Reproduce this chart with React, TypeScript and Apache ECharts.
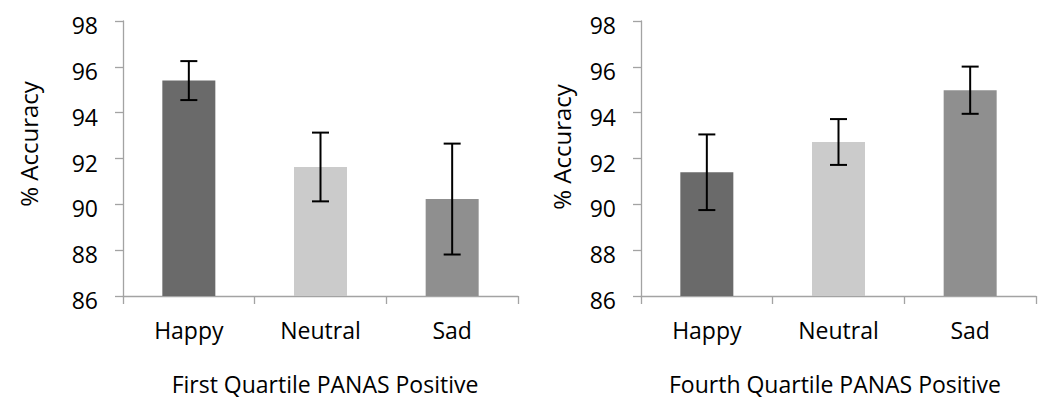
import React, { useEffect, useRef } from "react";
import * as echarts from "echarts";

// Emotion categories shared by both panels
const categories = ["Happy", "Neutral", "Sad"];

// First quartile PANAS positive: mean accuracy and error half-widths
const firstQuartileMeans = [95.4, 91.63, 90.23];
const firstQuartileErrors = [0.85, 1.5, 2.42];

// Fourth quartile PANAS positive: mean accuracy and error half-widths
const fourthQuartileMeans = [91.4, 92.72, 94.98];
const fourthQuartileErrors = [1.65, 1.0, 1.03];

const barColors = ["#6a6a6a", "#cbcbcb", "#8f8f8f"];

const yTicks = { min: 86, max: 98, interval: 2 };

const panelTitles = ["First Quartile PANAS Positive", "Fourth Quartile PANAS Positive"];
const yTitle = "% Accuracy";

const FONT = "'Open Sans', sans-serif";
const AXIS_GRAY = "#a3a3a3";

function errorRenderItem(params: any, api: any) {
  const x = api.value(0);
  const low = api.coord([x, api.value(1)]);
  const high = api.coord([x, api.value(2)]);
  const cap = 8.5;
  const style = { stroke: "#000", lineWidth: 2 };
  return {
    type: "group",
    children: [
      { type: "line", shape: { x1: low[0], y1: low[1], x2: high[0], y2: high[1] }, style },
      { type: "line", shape: { x1: high[0] - cap, y1: high[1], x2: high[0] + cap, y2: high[1] }, style },
      { type: "line", shape: { x1: low[0] - cap, y1: low[1], x2: low[0] + cap, y2: low[1] }, style },
    ],
  };
}

export default function App() {
  const ref = useRef<HTMLDivElement>(null);

  useEffect(() => {
    document.body.style.margin = "0";
    if (!ref.current) return;
    const chart = echarts.init(ref.current, undefined, { renderer: "svg" });

    const grids = [
      { left: 123, top: 21, width: 395, height: 275 },
      { left: 641, top: 21, width: 395, height: 275 },
    ];

    const xAxes = grids.map((_, i) => ({
      type: "category",
      gridIndex: i,
      data: categories,
      axisLine: { lineStyle: { color: AXIS_GRAY, width: 1.3 } },
      axisTick: { show: true, length: 8, lineStyle: { color: AXIS_GRAY, width: 1.3 } },
      axisLabel: { color: "#000", fontFamily: FONT, fontSize: 23, margin: 22 },
    }));

    const yAxes = grids.map((_, i) => ({
      type: "value",
      gridIndex: i,
      min: yTicks.min,
      max: yTicks.max,
      interval: yTicks.interval,
      axisLine: { show: true, lineStyle: { color: AXIS_GRAY, width: 1.3 } },
      axisTick: { show: true, length: 8, lineStyle: { color: AXIS_GRAY, width: 1.3 } },
      splitLine: { show: false },
      axisLabel: {
        color: "#000",
        fontFamily: FONT,
        fontSize: 23,
        margin: 25,
        verticalAlign: "top",
        lineHeight: 8,
      },
    }));

    const panels = [
      { means: firstQuartileMeans, errs: firstQuartileErrors },
      { means: fourthQuartileMeans, errs: fourthQuartileErrors },
    ];

    const series: any[] = [];
    panels.forEach((p, i) => {
      series.push({
        type: "bar",
        xAxisIndex: i,
        yAxisIndex: i,
        barWidth: 53,
        data: p.means.map((v, k) => ({ value: v, itemStyle: { color: barColors[k] } })),
      });
      series.push({
        type: "custom",
        xAxisIndex: i,
        yAxisIndex: i,
        renderItem: errorRenderItem,
        z: 10,
        data: p.means.map((v, k) => [k, v - p.errs[k], v + p.errs[k]]),
      });
    });

    const titleCenters = [
      { x: 325, y: 384 },
      { x: 835, y: 384 },
    ];
    const yTitleCenters = [
      { x: 28, y: 144 },
      { x: 561, y: 147 },
    ];

    const graphic: any[] = [];
    panelTitles.forEach((t, i) => {
      graphic.push({
        type: "text",
        x: titleCenters[i].x,
        y: titleCenters[i].y,
        style: {
          text: t,
          fill: "#000",
          font: `23px ${FONT}`,
          textAlign: "center",
          textVerticalAlign: "middle",
        },
      });
      graphic.push({
        type: "text",
        x: yTitleCenters[i].x,
        y: yTitleCenters[i].y,
        rotation: Math.PI / 2,
        style: {
          text: yTitle,
          fill: "#000",
          font: `24px ${FONT}`,
          textAlign: "center",
          textVerticalAlign: "middle",
        },
      });
    });

    chart.setOption({
      animation: false,
      grid: grids,
      xAxis: xAxes,
      yAxis: yAxes,
      series,
      graphic,
    });

    return () => chart.dispose();
  }, []);

  return <div ref={ref} style={{ width: 1062, height: 403 }} />;
}
